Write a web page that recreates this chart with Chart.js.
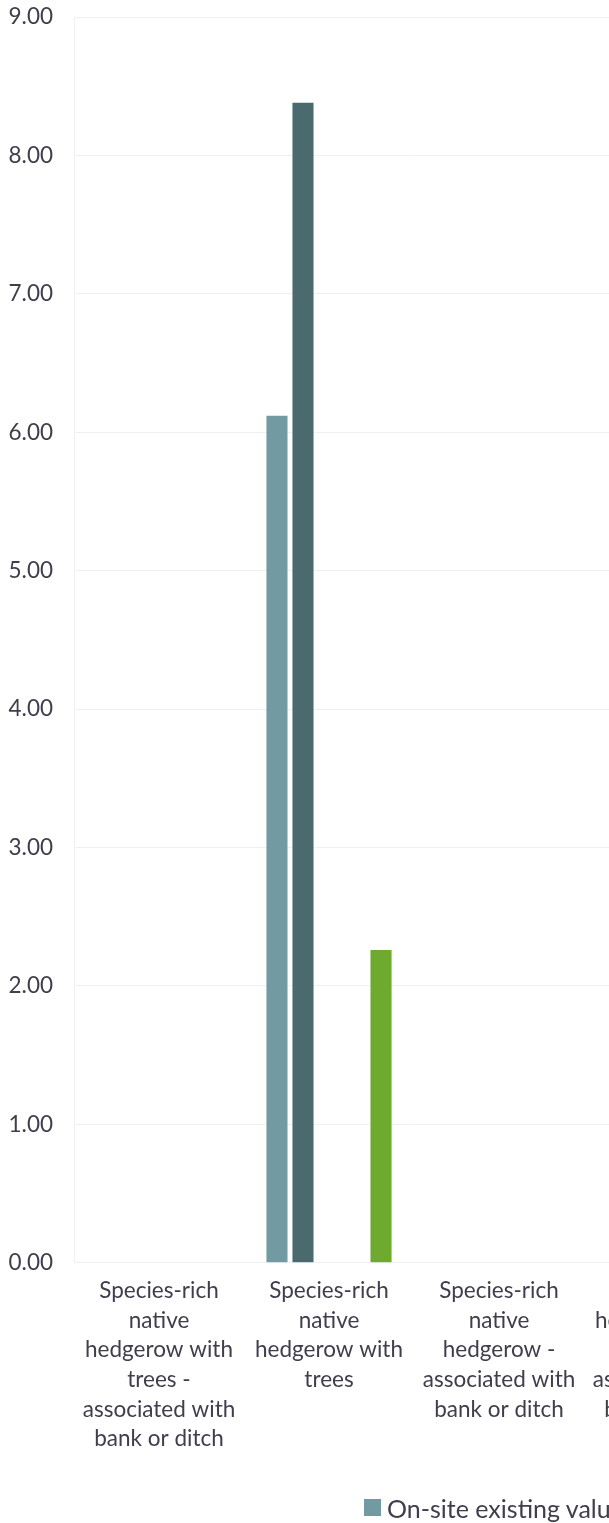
<!DOCTYPE html>
<html>
<head>
<meta charset="utf-8">
<script src="https://cdn.jsdelivr.net/npm/chart.js@4.4.1/dist/chart.umd.min.js"></script>
<style>
  html, body { margin: 0; padding: 0; background: #ffffff; }
  #frame { position: relative; width: 609px; height: 1523px; overflow: hidden; }
  #box { position: absolute; left: 0; top: 0; width: 764px; height: 1523px; }
  #legend { position: absolute; left: 364px; top: 1492px; white-space: nowrap; line-height: 28px;
            font-family: Lato, "Open Sans", sans-serif; font-size: 25px; color: #3e3e4c; }
  #legend .item { display: inline-flex; align-items: center; margin-right: 14px; }
  #legend .sw { display: inline-block; width: 17px; height: 17px; margin-right: 6px; }
</style>
</head>
<body>
<div id="frame">
  <div id="box"><canvas id="c"></canvas></div>
  <div id="legend"></div>
</div>
<script>
// ---- data ----
const categories = [
  ["Species-rich", "native", "hedgerow with", "trees -", "associated with", "bank or ditch"],
  ["Species-rich", "native", "hedgerow with", "trees"],
  ["Species-rich", "native", "hedgerow -", "associated with", "bank or ditch"],
  ["Native", "hedgerow with", "trees -", "associated with", "bank or ditch"]
];
const seriesNames = [
  "On-site existing value",
  "On-site post-intervention value",
  "Off-site existing value",
  "Off-site post-intervention value",
  "Net change in value"
];
const onsiteExisting = [0, 6.12, 0, 0];
const onsitePost = [0, 8.38, 0, 0];
const offsiteExisting = [0, 0, 0, 0];
const offsitePost = [0, 0, 0, 0];
const netChange = [0, 2.26, 0, 0];
const yTicks = [0, 1, 2, 3, 4, 5, 6, 7, 8, 9];

const seriesColors = ["#729aa2", "#4a6a70", "#a5bfc4", "#2f4a4f", "#6eaa2e"];
const seriesValues = [onsiteExisting, onsitePost, offsiteExisting, offsitePost, netChange];

const textColor = "#3e3e4c";
const gridColor = "#edf1f1";
const fontFamily = "Lato, 'Open Sans', sans-serif";

const chart = new Chart(document.getElementById("c"), {
  type: "bar",
  data: {
    labels: categories,
    datasets: seriesNames.map((name, i) => ({
      label: name,
      data: seriesValues[i],
      backgroundColor: seriesColors[i],
      categoryPercentage: 0.765,
      barPercentage: 0.81
    }))
  },
  options: {
    responsive: true,
    maintainAspectRatio: false,
    animation: false,
    layout: { padding: { top: 0, left: 0, right: 10, bottom: 56 } },
    plugins: {
      legend: { display: false },
      tooltip: { enabled: false }
    },
    scales: {
      x: {
        grid: { display: false, drawTicks: false },
        border: { display: true, color: gridColor, width: 1 },
        ticks: {
          color: textColor,
          font: { family: fontFamily, size: 22.5, lineHeight: 1.32 },
          maxRotation: 0, minRotation: 0, autoSkip: false, padding: 13
        }
      },
      y: {
        min: yTicks[0], max: yTicks[yTicks.length - 1],
        afterBuildTicks: (scale) => { scale.ticks = yTicks.map(v => ({ value: v })); },
        afterFit: (scale) => { scale.width = 74; scale.paddingTop = 17; scale.paddingBottom = 0; },
        grid: { color: gridColor, drawTicks: false, lineWidth: 1 },
        border: { display: true, color: gridColor },
        ticks: {
          color: textColor,
          font: { family: fontFamily, size: 22.5 },
          padding: 21,
          callback: (v) => Number(v).toFixed(2)
        }
      }
    }
  }
});

// HTML legend built from the chart's own legend items
const legendEl = document.getElementById("legend");
chart.options.plugins.legend.labels.generateLabels(chart).forEach(item => {
  const span = document.createElement("span");
  span.className = "item";
  const sw = document.createElement("span");
  sw.className = "sw";
  sw.style.background = item.fillStyle;
  span.appendChild(sw);
  span.appendChild(document.createTextNode(item.text));
  legendEl.appendChild(span);
});
</script>
</body>
</html>
